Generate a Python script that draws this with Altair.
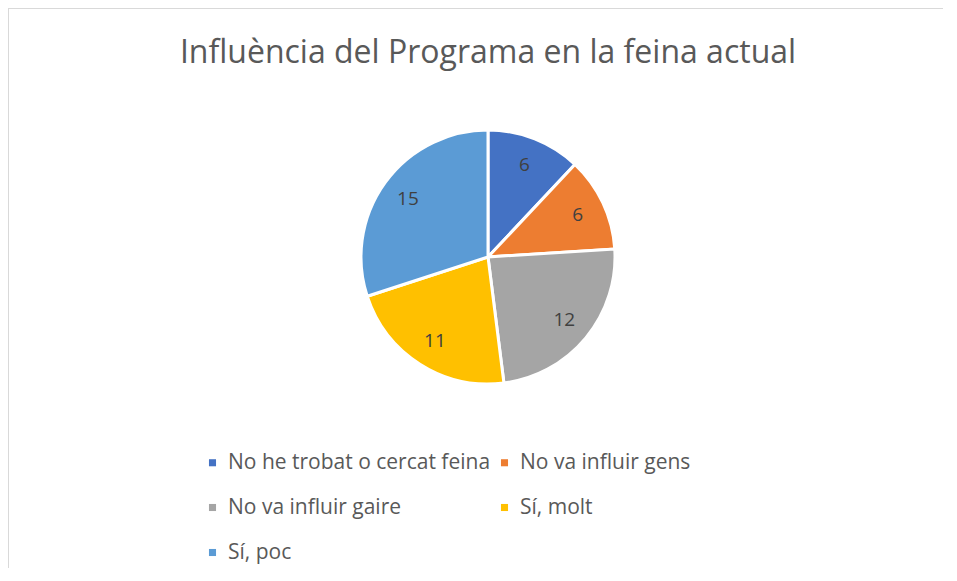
import altair as alt
import pandas as pd

categories = ["No he trobat o cercat feina", "No va influir gens", "No va influir gaire", "Sí, molt", "Sí, poc"]
values = [6, 6, 12, 11, 15]
colors = ["#4472C4", "#ED7D31", "#A5A5A5", "#FFC000", "#5B9BD5"]
title_text = "Influència del Programa en la feina actual"

df = pd.DataFrame({"categoria": categories, "valor": values, "ordre": list(range(len(categories)))})
one = pd.DataFrame({"a": [0]})

W, H = 935, 560
CX, CY = 480, 249
FONT = "Open Sans"

base = alt.Chart(df).encode(
    theta=alt.Theta("valor:Q", stack=True),
    order=alt.Order("ordre:Q"),
    color=alt.Color(
        "categoria:N",
        sort=categories,
        scale=alt.Scale(domain=categories, range=colors),
        legend=alt.Legend(
            title=None, orient="none", legendX=194, legendY=444, columns=2,
            direction="horizontal",
            symbolType="square", symbolSize=50, symbolStrokeWidth=0,
            labelFont=FONT, labelFontSize=21, labelColor="#595959",
            labelOffset=5, columnPadding=3, rowPadding=23, padding=0,
            labelLimit=500,
        ),
    ),
)

pie = base.mark_arc(outerRadius=127, stroke="white", strokeWidth=3).encode(
    x=alt.value(CX), y=alt.value(CY)
)
labels = base.mark_text(radius=99, fontSize=19, font=FONT).encode(
    x=alt.value(CX), y=alt.value(CY), text="valor:Q", color=alt.value("#404040")
)

# White panel leaving a 1px grey frame (chart background) visible on the top and left only
panel = alt.Chart(one).mark_rect(color="white", strokeWidth=0).encode(
    x=alt.value(1), x2=alt.value(W + 40), y=alt.value(1), y2=alt.value(H + 40)
)

title = alt.Chart(one).mark_text(
    text=title_text, fontSize=32, font=FONT, color="#595959", align="center", baseline="alphabetic"
).encode(x=alt.value(480), y=alt.value(55))

chart = alt.layer(panel, pie, labels, title).properties(
    width=W, height=H, padding=0, background="#D9D9D9",
    autosize=alt.AutoSizeParams(type="none")
).configure_view(stroke="transparent", strokeWidth=0)

chart.save("out.html", embed_options={"renderer": "svg", "actions": False})
